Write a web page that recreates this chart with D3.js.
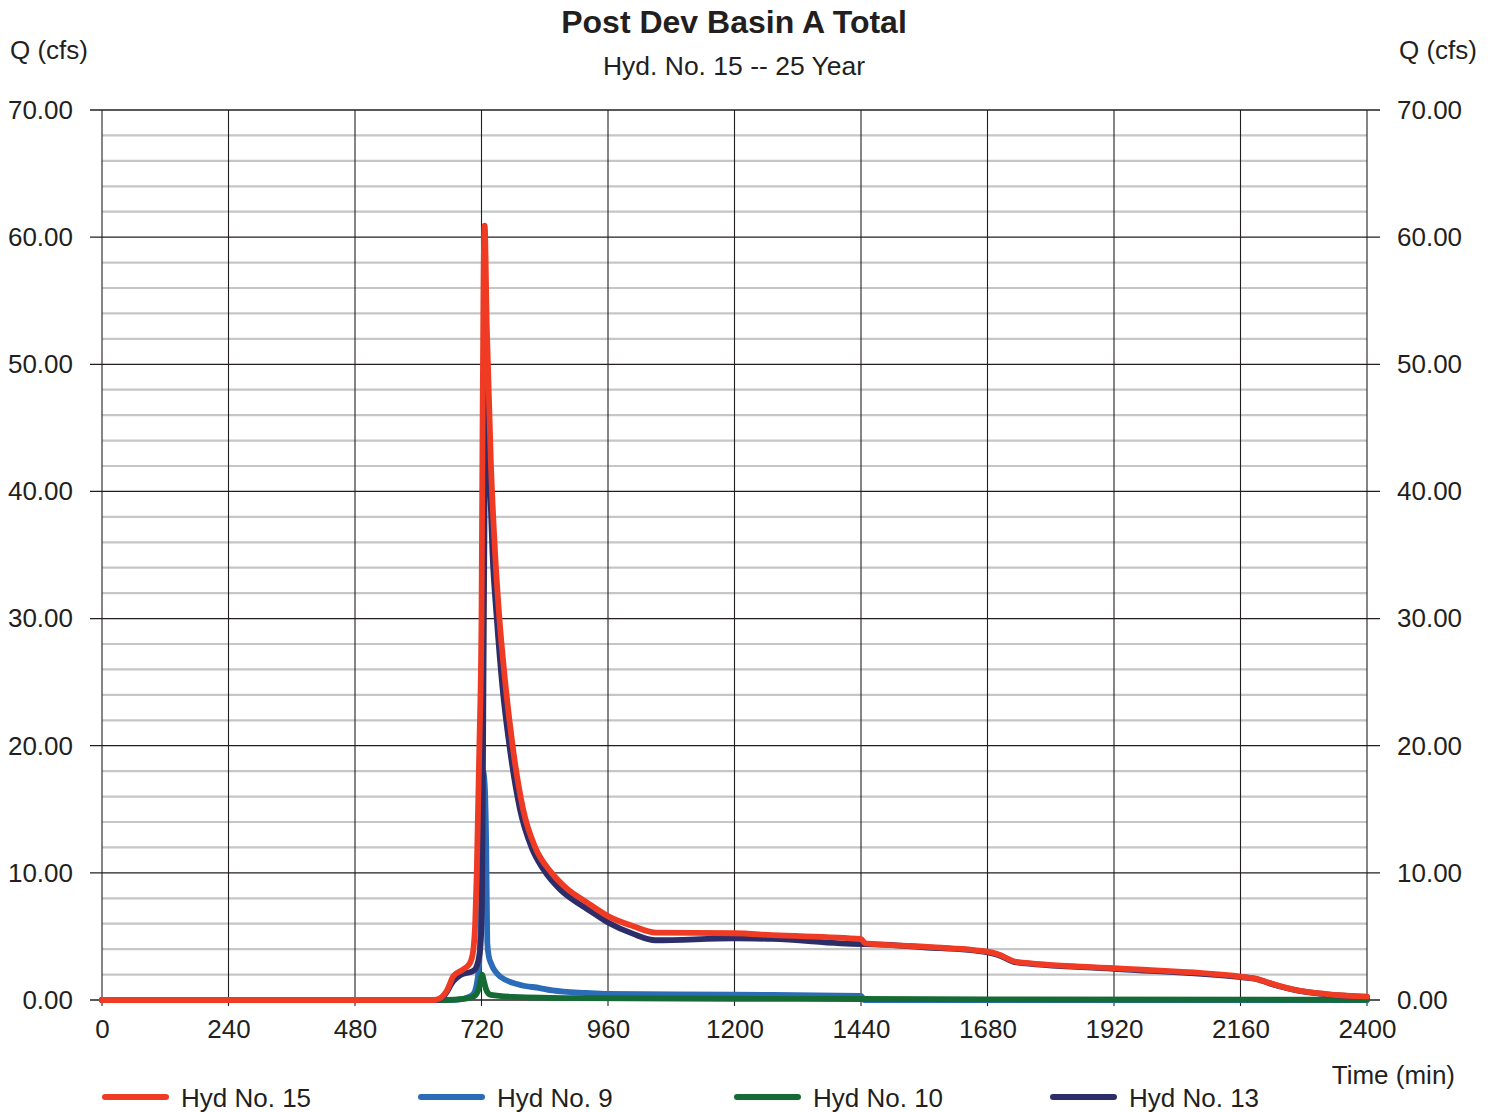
<!DOCTYPE html>
<html><head><meta charset="utf-8">
<script src="https://cdn.jsdelivr.net/npm/d3@7"></script>
<style>
body{margin:0;background:#fff;}
svg text{font-family:"Liberation Sans",Arial,Helvetica,sans-serif;fill:#231f20;}
</style></head>
<body>
<svg id="chart" width="1496" height="1112"></svg>
<script>
const titleText = "Post Dev Basin A Total";
const subtitleText = "Hyd. No. 15 -- 25 Year";
const yAxisLabel = "Q (cfs)";
const xAxisLabel = "Time (min)";
const xTicks = [0,240,480,720,960,1200,1440,1680,1920,2160,2400];
const yMajorTicks = [0,10,20,30,40,50,60,70];
const yMinorTicks = [2,4,6,8,12,14,16,18,22,24,26,28,32,34,36,38,42,44,46,48,52,54,56,58,62,64,66,68];
const seriesNames = ["Hyd No. 15","Hyd No. 9","Hyd No. 10","Hyd No. 13"];
const seriesColors = ["#ef3b24","#2b6cb8","#166b35","#2d2e69"];

// [time (min), Q (cfs)]
const hyd15 = [[0,0],[630,0],[640,0.1],[655,0.8],[667,1.9],[685,2.4],[698,2.9],[704,3.8],[708,6],[711,10],[716,20],[720,30],[722,45],[724,57],[726,60.9],[730,53],[738,42],[746,35],[754,30],[765,25],[779,20],[799,15],[822,12],[853,10],[881,8.8],[919,7.7],[960,6.6],[1008,5.8],[1050,5.3],[1200,5.25],[1272,5.1],[1440,4.8],[1448,4.45],[1560,4.2],[1680,3.8],[1700,3.6],[1735,3.0],[1920,2.5],[2160,1.84],[2186,1.7],[2230,1.15],[2264,0.8],[2323,0.47],[2400,0.26]];
const hyd9 = [[0,0],[660,0],[680,0.05],[694,0.2],[705,0.5],[714,2.1],[718,5.5],[720,9],[723,18],[726,17],[729,12],[731,4.5],[734,3.4],[738,2.9],[757,1.8],[792,1.2],[831,0.94],[855,0.75],[919,0.55],[960,0.47],[1200,0.42],[1440,0.33],[1446,0],[2400,0]];
const hyd10 = [[0,0],[650,0],[690,0.1],[706,0.3],[714,0.8],[718,1.5],[721,2.0],[725,1.4],[730,0.7],[738,0.4],[780,0.25],[900,0.15],[1200,0.1],[1440,0.08],[1680,0.05],[2400,0.02]];
const hyd13 = [[0,0],[635,0],[650,0.4],[667,1.5],[680,1.95],[705,2.3],[714,3.1],[718,4.2],[721,8],[723,20],[726,40],[729,48.6],[733,44.4],[741,35],[749,30],[760,24.5],[773,20],[793,15],[815,12],[837,10.3],[869,8.7],[900,7.7],[919,7.2],[960,6.1],[1008,5.2],[1050,4.7],[1200,4.85],[1272,4.8],[1440,4.4],[1448,4.4],[1560,4.15],[1680,3.75],[1700,3.55],[1735,2.95],[1920,2.45],[2160,1.8],[2186,1.68],[2230,1.12],[2264,0.78],[2323,0.45],[2400,0.24]];

const svg = d3.select("#chart");
const x = d3.scaleLinear().domain([0,2400]).range([102,1367]);
const y = d3.scaleLinear().domain([0,70]).range([1000,110]);

// minor horizontal grid
svg.append("g").selectAll("line").data(yMinorTicks).join("line")
  .attr("x1",x(0)).attr("x2",x(2400)).attr("y1",d=>y(d)).attr("y2",d=>y(d))
  .attr("stroke","#c6c6c6").attr("stroke-width",2.2);
// vertical grid
svg.append("g").selectAll("line").data(xTicks).join("line")
  .attr("x1",d=>x(d)).attr("x2",d=>x(d)).attr("y1",y(70)).attr("y2",y(0)+6)
  .attr("stroke","#231f20").attr("stroke-width",1.1);
// major horizontal grid
svg.append("g").selectAll("line").data(yMajorTicks).join("line")
  .attr("x1",x(0)-12).attr("x2",x(2400)+13).attr("y1",d=>y(d)).attr("y2",d=>y(d))
  .attr("stroke","#231f20").attr("stroke-width",1.3);

// axes (labels)
const fmt = d3.format(".2f");
const left = svg.append("g").attr("transform",`translate(${x(0)},0)`)
  .call(d3.axisLeft(y).tickValues(yMajorTicks).tickFormat(fmt).tickSize(0).tickPadding(29));
const right = svg.append("g").attr("transform",`translate(${x(2400)},0)`)
  .call(d3.axisRight(y).tickValues(yMajorTicks).tickFormat(fmt).tickSize(0).tickPadding(30));
const bottom = svg.append("g").attr("transform",`translate(0,${y(0)})`)
  .call(d3.axisBottom(x).tickValues(xTicks).tickFormat(d3.format("d")).tickSize(0).tickPadding(20));
[left,right,bottom].forEach(g=>{
  g.select(".domain").remove();
  g.selectAll("text").attr("font-size",26).attr("fill","#231f20")
   .style("font-family","'Liberation Sans',Arial,sans-serif");
});

// series lines
const line = d3.line().x(d=>x(d[0])).y(d=>y(d[1])).curve(d3.curveMonotoneX);
const drawOrder = [[hyd9,1],[hyd10,2],[hyd13,3],[hyd15,0]];
svg.append("g").selectAll("path").data(drawOrder).join("path")
  .attr("d",d=>line(d[0])).attr("fill","none")
  .attr("stroke",d=>seriesColors[d[1]]).attr("stroke-width",5.8)
  .attr("stroke-linejoin","round").attr("stroke-linecap","round");

// titles
svg.append("text").attr("x",734).attr("y",33).attr("text-anchor","middle")
  .attr("font-size",32).attr("font-weight","bold").text(titleText);
svg.append("text").attr("x",734).attr("y",75).attr("text-anchor","middle")
  .attr("font-size",26.5).text(subtitleText);
svg.append("text").attr("x",10).attr("y",59).attr("font-size",26).text(yAxisLabel);
svg.append("text").attr("x",1477).attr("y",59).attr("text-anchor","end").attr("font-size",26).text(yAxisLabel);
svg.append("text").attr("x",1455).attr("y",1084).attr("text-anchor","end").attr("font-size",26).text(xAxisLabel);

// legend
const lg = svg.append("g").selectAll("g").data(seriesNames).join("g")
  .attr("transform",(d,i)=>`translate(${105+i*316},1097)`);
lg.append("line").attr("x1",0).attr("x2",61).attr("y1",0).attr("y2",0)
  .attr("stroke",(d,i)=>seriesColors[i]).attr("stroke-width",6).attr("stroke-linecap","round");
lg.append("text").attr("x",76).attr("y",10).attr("font-size",26).text(d=>d);
</script>
</body></html>
